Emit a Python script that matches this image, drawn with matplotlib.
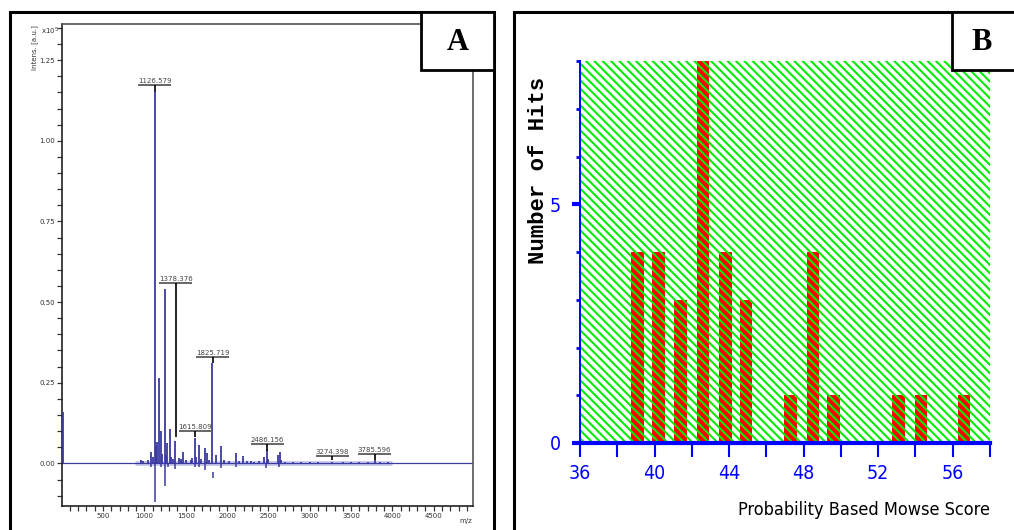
import matplotlib
matplotlib.use("Agg")
import matplotlib.pyplot as plt
from matplotlib.patches import Rectangle
from matplotlib.ticker import MultipleLocator, FixedLocator
from matplotlib import font_manager as fm

# ---------------- Panel A data (MALDI spectrum, intensity x10^5) ----------------
peak_mz = [12, 960, 985, 1045, 1085, 1105, 1126.579, 1140, 1153, 1173, 1197, 1215,
           1246, 1265, 1278, 1306, 1320, 1350, 1375, 1420, 1440, 1467, 1500, 1560,
           1580, 1608, 1630, 1657, 1690, 1730, 1758, 1780, 1822, 1871, 1932, 1960,
           2020, 2105, 2150, 2193, 2240, 2290, 2330, 2390, 2450, 2486, 2500, 2620,
           2640, 2655, 2700, 2800, 2900, 3000, 3100, 3274, 3400, 3500, 3600, 3700,
           3785, 3850, 3950]
peak_int = [0.16, 0.010, 0.008, 0.012, 0.036, 0.020, 1.152, 0.055, 0.067, 0.265, 0.100, 0.030,
            0.540, 0.025, 0.063, 0.106, 0.020, 0.015, 0.070, 0.018, 0.015, 0.036, 0.010, 0.012,
            0.018, 0.080, 0.020, 0.057, 0.015, 0.047, 0.032, 0.012, 0.310, 0.026, 0.055, 0.010,
            0.006, 0.032, 0.008, 0.023, 0.008, 0.006, 0.005, 0.007, 0.020, 0.041, 0.015, 0.025,
            0.036, 0.012, 0.005, 0.004, 0.003, 0.003, 0.003, 0.005, 0.003, 0.003, 0.004, 0.004,
            0.010, 0.004, 0.003]
neg_mz = [1085, 1130, 1202, 1254, 1290, 1375, 1612, 1660, 1735, 1930, 2108, 2470, 2630]
neg_int = [-0.010, -0.119, -0.012, -0.070, -0.010, -0.016, -0.012, -0.012, -0.020,
           -0.015, -0.012, -0.015, -0.012]
neg_seg_mz = [1825.719]
neg_seg_top = [-0.026]
neg_seg_bot = [-0.046]

label_text = ["1126.579", "1378.376", "1615.809", "1825.719", "2486.156", "3274.398", "3785.596"]
label_mz = [1126.579, 1378.376, 1615.809, 1825.719, 2486.156, 3274.398, 3785.596]
label_y = [1.173, 0.558, 0.100, 0.330, 0.059, 0.024, 0.028]
label_tip = [1.152, 0.082, 0.082, 0.310, 0.040, 0.012, 0.012]

a_yticks = [0.00, 0.25, 0.50, 0.75, 1.00, 1.25]
a_ytick_labels = ["0.00", "0.25", "0.50", "0.75", "1.00", "1.25"]
a_xticks = [500, 1000, 1500, 2000, 2500, 3000, 3500, 4000, 4500]

# ---------------- Panel B data (Mascot score histogram) ----------------
score_bins = [39.1, 40.2, 41.4, 42.6, 43.8, 44.9, 47.3, 48.5, 49.6, 53.1, 54.3, 56.6]
hits = [4, 4, 3, 8, 4, 3, 1, 4, 1, 1, 1, 1]
b_xticks = [36, 40, 44, 48, 52, 56]
b_xminor = [38, 42, 46, 50, 54, 58]
b_yticks = [0, 5]
b_yminor = [1, 2, 3, 4, 6, 7, 8]

# ---------------- fonts ----------------
entries = [(f.name, str(f.stretch)) for f in fm.fontManager.ttflist]
if any(n == "Liberation Sans Narrow" for n, s in entries):
    NARROW = dict(family="Liberation Sans Narrow")
elif any(n == "DejaVu Sans" and "condensed" in s for n, s in entries):
    NARROW = dict(family="DejaVu Sans", stretch="condensed")
else:
    NARROW = dict(family="DejaVu Sans")

plt.rcParams["hatch.linewidth"] = 1.5
HATCH = "\\" * 4

W, H = 1014, 530
fig = plt.figure(figsize=(W / 100, H / 100), dpi=100)


def fx(px):
    return px / W


def fy(py):
    return 1 - py / H


SPEC = "#3a3aa0"
GREEN = "#00ee00"
BLUE = "#0000ff"

# ---------------- Panel A ----------------
axA = fig.add_axes([fx(62), fy(506), fx(473) - fx(62), fy(24) - fy(506)])
axA.set_xlim(4, 4975)
axA.set_ylim(-0.132, 1.362)

axA.hlines(0, 890, 4000, color="#c9c9ec", lw=3.5, zorder=1)
axA.axhline(0, color=SPEC, lw=0.9, zorder=2)
axA.vlines(peak_mz, 0, peak_int, color=SPEC, lw=1.3, zorder=3)
axA.vlines(neg_mz, 0, neg_int, color=SPEC, lw=1.1, zorder=3)
axA.vlines(neg_seg_mz, neg_seg_bot, neg_seg_top, color=SPEC, lw=1.1, zorder=3)

for t, mz, ly, tip in zip(label_text, label_mz, label_y, label_tip):
    axA.hlines(ly, mz - 200, mz + 200, color="#666666", lw=1.4, zorder=4)
    axA.vlines(mz, tip, ly, color="black", lw=1.2, zorder=4)
    axA.annotate(t, (mz, ly), xytext=(0, 0.8), textcoords="offset points",
                 ha="center", va="bottom", fontsize=5, color="#444444", zorder=5)

axA.set_yticks(a_yticks)
axA.set_yticklabels(a_ytick_labels)
axA.yaxis.set_minor_locator(MultipleLocator(0.05))
axA.set_xticks(a_xticks)
axA.set_xticklabels([str(v) for v in a_xticks])
axA.xaxis.set_minor_locator(MultipleLocator(100))
axA.tick_params(which="both", direction="out", length=3.5, width=0.9, color="#333333",
                labelsize=5, labelcolor="#333333", pad=1.5)
for s in axA.spines.values():
    s.set_color("#555555")
    s.set_linewidth(1.2)
axA.spines["bottom"].set_color("#222222")
axA.spines["left"].set_color("#222222")

fig.text(fx(35), fy(48), "Intens. [a.u.]", rotation=90, fontsize=5, color="#333333",
         ha="center", va="center")
fig.text(fx(50), fy(31), r"x10$^5$", fontsize=5, color="#333333", ha="center", va="center")
fig.text(fx(466), fy(521), "m/z", fontsize=5, color="#333333", ha="center", va="center")

# ---------------- Panel B ----------------
axB = fig.add_axes([fx(580), fy(443), fx(990) - fx(580), fy(61) - fy(443)])
axB.set_xlim(36, 58)
axB.set_ylim(0, 8)
axB.add_patch(Rectangle((0, 0), 1, 1, transform=axB.transAxes, facecolor="white",
                        edgecolor=GREEN, hatch=HATCH, linewidth=0, zorder=0.5,
                        antialiased=False))
axB.bar(score_bins, hits, width=0.68, color="#ff0000", edgecolor=GREEN,
        hatch=HATCH, linewidth=0, zorder=2, antialiased=False)

axB.spines["top"].set_visible(False)
axB.spines["right"].set_visible(False)
axB.spines["left"].set_color(BLUE)
axB.spines["left"].set_linewidth(1.4)
axB.spines["bottom"].set_color(BLUE)
axB.spines["bottom"].set_linewidth(3.0)
axB.spines["bottom"].set_zorder(3)

axB.set_xticks(b_xticks)
axB.set_xticklabels([str(v) for v in b_xticks])
axB.xaxis.set_minor_locator(FixedLocator(b_xminor))
axB.set_yticks(b_yticks)
axB.set_yticklabels([str(v) for v in b_yticks])
axB.yaxis.set_minor_locator(FixedLocator(b_yminor))
axB.tick_params(axis="x", which="both", direction="out", length=10, width=1.5, color=BLUE)
axB.tick_params(axis="x", which="major", pad=5, labelsize=14, labelcolor=BLUE)
axB.tick_params(axis="y", which="major", direction="out", length=6, width=3, color=BLUE,
                pad=8, labelsize=14, labelcolor=BLUE)
axB.tick_params(axis="y", which="minor", direction="out", length=3, width=2, color=BLUE)
for lab in axB.get_xticklabels() + axB.get_yticklabels():
    lab.set_fontfamily(NARROW["family"])
    if "stretch" in NARROW:
        lab.set_fontstretch(NARROW["stretch"])

fig.text(fx(539), fy(170), "Number of Hits", rotation=90, family="Liberation Mono",
         weight="bold", fontsize=16, color="black", ha="center", va="center")
fig.text(fx(990), fy(510), "Probability Based Mowse Score", fontsize=13, color="black",
         ha="right", va="center", **NARROW)

# ---------------- frames and panel letters ----------------
fig.add_artist(Rectangle((fx(10), -0.02), fx(494) - fx(10), fy(12) + 0.02,
                         transform=fig.transFigure, fill=False, edgecolor="black",
                         linewidth=2.2, zorder=5))
fig.add_artist(Rectangle((fx(514), -0.02), fx(1030) - fx(514), fy(12) + 0.02,
                         transform=fig.transFigure, fill=False, edgecolor="black",
                         linewidth=2.2, zorder=5))
fig.add_artist(Rectangle((fx(421), fy(70)), fx(494) - fx(421), fy(12) - fy(70),
                         transform=fig.transFigure, facecolor="white", edgecolor="black",
                         linewidth=2.0, zorder=6))
fig.add_artist(Rectangle((fx(952), fy(70)), fx(1030) - fx(952), fy(12) - fy(70),
                         transform=fig.transFigure, facecolor="white", edgecolor="black",
                         linewidth=2.0, zorder=6))
fig.text(fx(457.5), fy(43), "A", family="Liberation Serif", weight="bold", fontsize=22,
         ha="center", va="center", zorder=7)
fig.text(fx(982), fy(43), "B", family="Liberation Serif", weight="bold", fontsize=22,
         ha="center", va="center", zorder=7)

fig.savefig("out.png", dpi=100)
